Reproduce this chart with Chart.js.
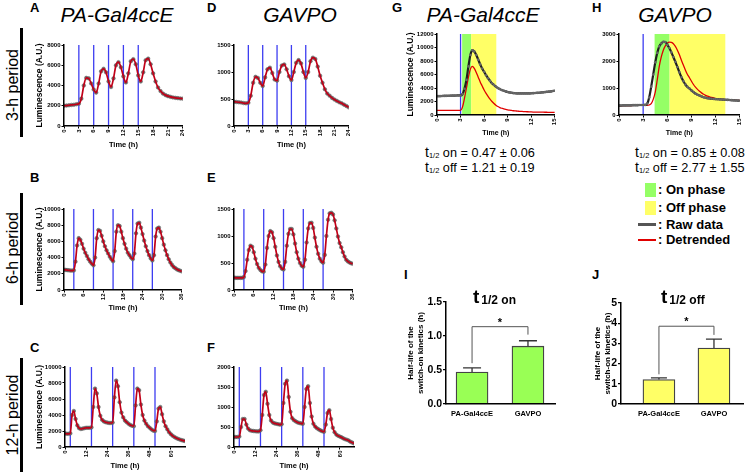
<!DOCTYPE html>
<html><head><meta charset="utf-8">
<script src="https://cdn.jsdelivr.net/npm/chart.js@4.4.1/dist/chart.umd.min.js"></script>
<style>
html,body{margin:0;padding:0;background:#fff;}
body{width:747px;height:472px;position:relative;overflow:hidden;font-family:"Liberation Sans",Arial,sans-serif;color:#000;}
canvas{position:absolute;}
.abs{position:absolute;white-space:nowrap;}
.letter{font-weight:bold;font-size:13px;line-height:1;}
.ttl{font-style:italic;font-size:21px;line-height:1;transform:translateX(-50%);}
.row{font-size:16px;line-height:1;transform:translate(-50%,-50%) rotate(-90deg);}
.vbar{position:absolute;width:3px;background:#000;}
.stat{font-size:12.7px;line-height:1;}
.stat .t{font-size:14px;}
.stat .sub{font-size:7.5px;vertical-align:-1px;}
.leg{font-size:13px;font-weight:bold;line-height:14px;}
.bt{font-weight:bold;line-height:19px;}
.bt .big{font-size:19px;}
.bt .small{font-size:12px;margin-left:2px;vertical-align:-1px;}
</style></head><body>
<div id="charts"></div>

<div class="abs letter" style="left:30px;top:1px">A</div>
<div class="abs letter" style="left:207px;top:1px">D</div>
<div class="abs letter" style="left:392px;top:1px">G</div>
<div class="abs letter" style="left:592px;top:1px">H</div>
<div class="abs letter" style="left:30px;top:171px">B</div>
<div class="abs letter" style="left:207px;top:171px">E</div>
<div class="abs letter" style="left:30px;top:341px">C</div>
<div class="abs letter" style="left:207px;top:341px">F</div>
<div class="abs letter" style="left:404px;top:268px">I</div>
<div class="abs letter" style="left:592px;top:268px">J</div>

<div class="abs ttl" style="left:117px;top:4px">PA-Gal4ccE</div>
<div class="abs ttl" style="left:300px;top:4px">GAVPO</div>
<div class="abs ttl" style="left:483px;top:4px">PA-Gal4ccE</div>
<div class="abs ttl" style="left:675px;top:4px">GAVPO</div>

<div class="abs row" style="left:13px;top:85px">3-h period</div>
<div class="abs row" style="left:13px;top:248px">6-h period</div>
<div class="abs row" style="left:13px;top:415px">12-h period</div>
<div class="vbar" style="left:20px;top:28px;height:109px"></div>
<div class="vbar" style="left:20px;top:193px;height:112px"></div>
<div class="vbar" style="left:20px;top:358px;height:114px"></div>

<div class="abs stat" style="left:425px;top:145px"><span class="t">t</span><span class="sub">1/2</span> on = 0.47 ± 0.06</div>
<div class="abs stat" style="left:425px;top:160px"><span class="t">t</span><span class="sub">1/2</span> off = 1.21 ± 0.19</div>
<div class="abs stat" style="left:635px;top:145px"><span class="t">t</span><span class="sub">1/2</span> on = 0.85 ± 0.08</div>
<div class="abs stat" style="left:635px;top:160px"><span class="t">t</span><span class="sub">1/2</span> off = 2.77 ± 1.55</div>

<div class="abs" style="left:645px;top:183px;width:11px;height:14px;background:#95ff66"></div>
<div class="abs leg" style="left:658px;top:183px">: On phase</div>
<div class="abs" style="left:645px;top:201px;width:11px;height:14px;background:#ffff66"></div>
<div class="abs leg" style="left:658px;top:201px">: Off phase</div>
<div class="abs" style="left:638px;top:223px;width:18px;height:3px;background:#555"></div>
<div class="abs leg" style="left:658px;top:218px">: Raw data</div>
<div class="abs" style="left:638px;top:239px;width:18px;height:1.5px;background:#e00000"></div>
<div class="abs leg" style="left:658px;top:233px">: Detrended</div>

<div class="abs bt" style="left:473px;top:287px"><span class="big">t</span><span class="small">1/2 on</span></div>
<div class="abs bt" style="left:661px;top:287px"><span class="big">t</span><span class="small">1/2 off</span></div>

<script>
// ---------------- DATA ----------------
const hours24 = [0,0.5,1,1.5,2,2.5,3,3.5,4,4.5,5,5.5,6,6.5,7,7.5,8,8.5,9,9.5,10,10.5,11,11.5,12,12.5,13,13.5,14,14.5,15,15.5,16,16.5,17,17.5,18,18.5,19,19.5,20,20.5,21,21.5,22,22.5,23,23.5,24];
const hours36 = [0,0.5,1,1.5,2,2.5,3,3.5,4,4.5,5,5.5,6,6.5,7,7.5,8,8.5,9,9.5,10,10.5,11,11.5,12,12.5,13,13.5,14,14.5,15,15.5,16,16.5,17,17.5,18,18.5,19,19.5,20,20.5,21,21.5,22,22.5,23,23.5,24,24.5,25,25.5,26,26.5,27,27.5,28,28.5,29,29.5,30,30.5,31,31.5,32,32.5,33,33.5,34,34.5,35,35.5,36];
const hours68 = [0,1,2,3,4,5,6,7,8,9,10,11,12,13,14,15,16,17,18,19,20,21,22,23,24,25,26,27,28,29,30,31,32,33,34,35,36,37,38,39,40,41,42,43,44,45,46,47,48,49,50,51,52,53,54,55,56,57,58,59,60,61,62,63,64,65,66,67,68];
const hours15 = [0,0.25,0.5,0.75,1,1.25,1.5,1.75,2,2.25,2.5,2.75,3,3.25,3.5,3.75,4,4.25,4.5,4.75,5,5.25,5.5,5.75,6,6.25,6.5,6.75,7,7.25,7.5,7.75,8,8.25,8.5,8.75,9,9.25,9.5,9.75,10,10.25,10.5,10.75,11,11.25,11.5,11.75,12,12.25,12.5,12.75,13,13.25,13.5,13.75,14,14.25,14.5,14.75,15];

// A: PA-Gal4ccE, 3-h period
const lumA = [2000,2020,2050,2080,2100,2150,2200,2700,4000,4750,
  4700,4200,3600,3300,4200,5400,5650,5300,4400,3850,
  4700,6000,6300,5800,4900,4300,5200,6400,6600,6100,
  5000,4400,5300,6500,6650,6100,5200,4400,3800,3450,
  3200,3050,2950,2880,2820,2780,2750,2720,2700];
// D: GAVPO, 3-h period
const lumD = [450,445,440,435,425,420,430,560,800,910,
  890,800,740,900,1050,1080,980,860,840,1000,
  1120,1140,1050,920,850,1000,1170,1220,1160,1000,
  890,1000,1200,1265,1240,1100,930,800,680,600,
  560,520,490,465,440,420,395,370,345];
// B: PA-Gal4ccE, 6-h period
const lumB = [2500,2480,2450,2430,2400,2400,2420,3500,5500,6400,
  6200,5700,5100,4600,4200,3800,3500,3250,3050,4000,
  6400,7400,7300,6700,6000,5400,4900,4500,4100,3800,
  3550,4800,7200,8000,7900,7200,6400,5700,5100,4600,
  4300,4000,3800,4500,7000,8200,8300,7700,6900,6100,
  5400,4800,4300,3900,3650,4300,6600,7600,7700,7200,
  6400,5600,4900,4300,3800,3400,3100,2850,2700,2550,
  2450,2380,2300];
// E: GAVPO, 6-h period
const lumE = [230,225,225,225,225,225,240,350,560,740,
  820,800,700,580,480,410,370,345,340,470,
  780,1000,1090,1070,960,800,640,520,440,395,
  380,520,820,1040,1130,1130,1030,860,700,580,
  500,450,430,560,880,1140,1240,1245,1150,970,
  800,670,580,530,505,650,1000,1300,1420,1430,
  1400,1290,1140,990,870,790,700,620,560,530,
  510,495,485];
// C: PA-Gal4ccE, 12-h period
const lumC = [1700,1650,1650,1700,4000,4500,3500,2700,2350,2250,
  2300,2350,2400,2400,2400,2450,5000,7300,6700,5000,
  3900,3400,3200,3100,3050,3000,3000,3050,6200,8300,
  7600,5600,4300,3700,3300,3100,2900,2750,2650,2600,
  5200,7300,7100,5300,4000,3300,2900,2600,2400,2200,
  2050,2000,3200,4800,5000,4100,3200,2600,2200,1850,
  1600,1400,1250,1120,1020,930,860,800,750];
// F: GAVPO, 12-h period
const lumF = [250,250,250,260,500,700,700,560,460,420,
  405,400,395,390,390,420,800,1300,1380,1080,
  800,660,610,590,580,570,560,570,1100,1580,
  1660,1250,880,720,670,640,615,600,590,580,
  1000,1450,1520,1100,760,580,510,470,440,415,
  395,380,560,850,920,700,480,370,310,280,
  260,240,215,195,180,160,130,110,90];
// G: PA-Gal4ccE single pulse
const rawG = [2800,2800,2810,2820,2830,2840,2850,2860,2870,2880,2890,2900,2900,
  3100,3900,5200,7200,8900,9600,9400,8900,8200,7500,6900,6400,
  5900,5450,5050,4700,4450,4200,4000,3850,3700,3600,3500,3400,
  3350,3300,3250,3220,3200,3200,3200,3200,3200,3200,3200,3220,
  3240,3260,3280,3300,3330,3360,3400,3430,3460,3500,3550,3600];
const detG = [700,700,700,700,700,700,700,700,700,700,700,700,700,
  1200,2500,4000,5600,6800,7200,6900,6300,5600,4900,4300,3700,
  3200,2750,2350,2000,1700,1450,1250,1100,1000,900,820,760,
  710,670,630,600,570,550,530,510,495,480,465,450,
  440,435,430,425,420,415,410,405,400,400,400,400];
// H: GAVPO single pulse
const rawH = [350,350,355,355,360,360,360,365,365,365,370,370,370,
  375,420,650,1050,1500,1950,2300,2540,2650,2710,2700,2600,
  2480,2320,2150,1970,1780,1580,1400,1250,1130,1040,980,910,
  850,790,750,720,690,660,640,620,610,600,595,590,
  585,580,575,570,565,560,555,550,545,540,535,530];
const detH = [340,340,345,345,350,350,350,355,355,355,360,360,360,
  360,360,370,420,580,850,1300,1800,2150,2400,2560,2660,
  2700,2690,2640,2540,2400,2230,2030,1840,1660,1500,1380,1250,
  1130,1030,950,880,820,770,730,700,670,650,630,610,
  600,590,580,575,570,565,560,555,550,548,545,540];

// light pulses (h) and phases (h)
const pulses3h = [3,6,9,12,15];
const pulses6h = [3,9,15,21,27];
const pulses12h = [3,15,27,39,51];
const pulseSingle = [3];
const onPhaseG = [3.2,4.35], offPhaseG = [4.35,7.55];
const onPhaseH = [4.42,6.28], offPhaseH = [6.28,13.2];

// bar panels
const strains = ['PA-Gal4ccE','GAVPO'];
const halfOn = [0.47,0.85], halfOnErr = [0.06,0.08];
const halfOff = [1.21,2.77], halfOffErr = [0.08,0.44];
const bracketOn = {top:1.137, left:0.6, right:1.02};
const bracketOff = {top:3.85, left:1.47, right:3.42};

// ---------------- DRAWING ----------------
Chart.defaults.font.family = '"Liberation Sans", Arial, sans-serif';
Chart.defaults.color = '#000';
Chart.defaults.animation = false;

const marksPlugin = {
  id: 'marks',
  beforeDatasetsDraw(chart, args, o) {
    const {ctx, chartArea: ca, scales: {x}} = chart;
    ctx.save();
    (o.bands || []).forEach(b => {
      const x1 = x.getPixelForValue(b.range[0]), x2 = x.getPixelForValue(b.range[1]);
      ctx.fillStyle = b.color;
      ctx.fillRect(x1, ca.top, x2 - x1, ca.bottom - ca.top);
    });
    ctx.strokeStyle = o.lineColor || 'rgba(40,40,240,0.9)';
    ctx.lineWidth = o.lineWidth || 1.3;
    (o.lines || []).forEach(v => {
      const px = x.getPixelForValue(v);
      ctx.beginPath(); ctx.moveTo(px, ca.top); ctx.lineTo(px, ca.bottom); ctx.stroke();
    });
    ctx.restore();
  }
};

const barExtras = {
  id: 'barExtras',
  afterDatasetsDraw(chart, args, o) {
    if (!o.values) return;
    const {ctx, scales: {y}} = chart;
    const meta = chart.getDatasetMeta(0);
    ctx.save();
    ctx.strokeStyle = '#333'; ctx.lineWidth = 1.3;
    meta.data.forEach((bar, i) => {
      const px = bar.x, base = y.getPixelForValue(o.values[i]), top = y.getPixelForValue(o.values[i] + o.errors[i]);
      ctx.beginPath(); ctx.moveTo(px, base); ctx.lineTo(px, top);
      ctx.moveTo(px - o.cap, top); ctx.lineTo(px + o.cap, top); ctx.stroke();
    });
    const b = o.bracket, x1 = meta.data[0].x, x2 = meta.data[1].x, yt = y.getPixelForValue(b.top);
    ctx.strokeStyle = '#555'; ctx.lineWidth = 1;
    ctx.beginPath();
    ctx.moveTo(x1, y.getPixelForValue(b.left)); ctx.lineTo(x1, yt); ctx.lineTo(x2, yt); ctx.lineTo(x2, y.getPixelForValue(b.right));
    ctx.stroke();
    ctx.fillStyle = '#000'; ctx.font = 'bold 11px "Liberation Sans"';
    ctx.textAlign = 'center'; ctx.textBaseline = 'alphabetic';
    ctx.fillText('*', (x1 + x2) / 2, yt - 1);
    ctx.restore();
  }
};

function makeCanvas(box, pad) {
  const L = box.l - pad.l, T = box.t - pad.t;
  const W = box.r - box.l + pad.l + pad.r, H = box.b - box.t + pad.t + pad.b;
  const c = document.createElement('canvas');
  c.width = W; c.height = H;
  Object.assign(c.style, {left: L + 'px', top: T + 'px', width: W + 'px', height: H + 'px'});
  document.getElementById('charts').appendChild(c);
  return c;
}

const gridOpts = {display: true, drawOnChartArea: false, drawTicks: true, tickLength: 2.5, color: '#000', lineWidth: 1};
const borderOpts = {display: true, color: '#000', width: 1.5, z: 1};
const plain = v => String(v);

function linePanel(box, pad, o) {
  const c = makeCanvas(box, pad);
  let datasets;
  if (o.raw) {
    const rawPts = o.hours.map((h, i) => ({x: h, y: o.raw[i]}));
    const detPts = o.hours.map((h, i) => ({x: h, y: o.det[i]}));
    datasets = [
      {data: rawPts, borderColor: '#1e1e1e', borderWidth: 2.2, pointRadius: 1.3, pointBackgroundColor: '#666', pointBorderWidth: 0, cubicInterpolationMode: 'monotone', order: 1},
      {data: detPts, borderColor: '#e00000', borderWidth: 1.3, pointRadius: 0, cubicInterpolationMode: 'monotone', order: 2}
    ];
  } else {
    const pts = o.hours.map((h, i) => ({x: h, y: o.values[i]}));
    datasets = [
      {data: pts, borderColor: '#c00018', borderWidth: 1.7, pointRadius: 0, cubicInterpolationMode: 'monotone', order: 1},
      {data: pts, showLine: false, pointRadius: 1.8, pointBackgroundColor: '#747474', pointBorderColor: '#555', pointBorderWidth: 0.5, order: 2}
    ];
  }
  return new Chart(c, {
    type: 'line',
    data: {datasets},
    plugins: [marksPlugin],
    options: {
      responsive: false, animation: false,
      layout: {padding: {left: 0, top: pad.t, right: pad.r, bottom: 0}},
      plugins: {legend: {display: false}, tooltip: {enabled: false},
        marks: {lines: o.pulses, bands: o.bands || []}},
      scales: {
        x: {type: 'linear', min: 0, max: o.xMax, afterFit: s => { s.height = pad.b; },
          ticks: {stepSize: o.xStep, includeBounds: false, minRotation: 90, maxRotation: 90, autoSkip: false, padding: 1, font: {size: 6, weight: 'bold'}, color: '#000', callback: plain},
          grid: gridOpts, border: borderOpts,
          title: {display: true, text: 'Time (h)', color: '#000', font: {size: o.xFont || 7.5, weight: 'bold'}, padding: {top: 0, bottom: 1}}},
        y: {type: 'linear', min: 0, max: o.yMax, afterFit: s => { s.width = pad.l; },
          ticks: {stepSize: o.yStep, padding: 1, font: {size: 6, weight: 'bold'}, color: '#000', callback: plain},
          grid: gridOpts, border: borderOpts,
          title: {display: !!o.yTitle, text: 'Luminescence (A.U.)', color: '#000', font: {size: 8.5, weight: 'bold'}, padding: {top: 1, bottom: 0}}}
      }
    }
  });
}

function barPanel(box, pad, o) {
  const c = makeCanvas(box, pad);
  const pts = o.values.map((v, i) => ({x: o.positions[i], y: v}));
  return new Chart(c, {
    type: 'bar',
    data: {datasets: [{data: pts, backgroundColor: o.color, borderColor: '#444', borderWidth: 1.3, barThickness: 32, borderSkipped: 'bottom'}]},
    plugins: [barExtras],
    options: {
      responsive: false, animation: false,
      layout: {padding: {left: 0, top: pad.t, right: pad.r, bottom: 0}},
      plugins: {legend: {display: false}, tooltip: {enabled: false},
        barExtras: {values: o.values, errors: o.errors, cap: o.cap, bracket: o.bracket}},
      scales: {
        x: {type: 'linear', min: 0, max: 1, offset: false, afterFit: s => { s.height = pad.b; },
          afterBuildTicks: s => { s.ticks = o.positions.map(v => ({value: v})); },
          ticks: {callback: (v, i) => o.labels[i], autoSkip: false, maxRotation: 0, minRotation: 0, padding: 5, font: {size: 7.5, weight: 'bold'}, color: '#000'},
          grid: {display: false, drawTicks: false}, border: borderOpts},
        y: {type: 'linear', min: 0, max: o.yMax, afterFit: s => { s.width = pad.l; },
          ticks: {stepSize: o.yStep, padding: 1, font: {size: 10.5, weight: 'bold'}, color: '#000', callback: o.fmt},
          grid: {display: true, drawOnChartArea: false, drawTicks: true, tickLength: 3, color: '#000', lineWidth: 1.3},
          border: borderOpts,
          title: {display: true, text: ['Half-life of the', 'switch-on kinetics (h)'], color: '#000', font: {size: 8, weight: 'bold', lineHeight: 1.25}, padding: {top: 1, bottom: 0}}}
      }
    }
  });
}

// A-F
linePanel({l: 64, t: 45, r: 185, b: 126}, {l: 30, t: 6, r: 6, b: 24},
  {hours: hours24, values: lumA, pulses: pulses3h, xMax: 24, xStep: 3, yMax: 8000, yStep: 2000, yTitle: true});
linePanel({l: 234, t: 45, r: 351, b: 126}, {l: 28, t: 6, r: 6, b: 24},
  {hours: hours24, values: lumD, pulses: pulses3h, xMax: 24, xStep: 3, yMax: 1500, yStep: 500});
linePanel({l: 64, t: 209, r: 184, b: 290}, {l: 30, t: 6, r: 6, b: 23},
  {hours: hours36, values: lumB, pulses: pulses6h, xMax: 36, xStep: 6, yMax: 10000, yStep: 2000, yTitle: true});
linePanel({l: 234, t: 209, r: 355, b: 290}, {l: 28, t: 6, r: 6, b: 23},
  {hours: hours36, values: lumE, pulses: pulses6h, xMax: 36, xStep: 6, yMax: 1500, yStep: 500});
linePanel({l: 65, t: 367, r: 185, b: 447}, {l: 31, t: 6, r: 6, b: 24},
  {hours: hours68, values: lumC, pulses: pulses12h, xMax: 68, xStep: 12, yMax: 10000, yStep: 2000, yTitle: true});
linePanel({l: 234, t: 367, r: 354, b: 447}, {l: 28, t: 6, r: 6, b: 24},
  {hours: hours68, values: lumF, pulses: pulses12h, xMax: 68, xStep: 12, yMax: 2000, yStep: 500});

// G, H
linePanel({l: 437, t: 34, r: 557, b: 115}, {l: 32, t: 6, r: 6, b: 23},
  {hours: hours15, raw: rawG, det: detG, pulses: pulseSingle, xMax: 15, xStep: 3, yMax: 12000, yStep: 2000, yTitle: true, xFont: 7,
   bands: [{range: onPhaseG, color: '#95ff66'}, {range: offPhaseG, color: '#ffff66'}]});
linePanel({l: 619, t: 34, r: 742, b: 115}, {l: 28, t: 6, r: 6, b: 23},
  {hours: hours15, raw: rawH, det: detH, pulses: pulseSingle, xMax: 15, xStep: 3, yMax: 3000, yStep: 1000, xFont: 7,
   bands: [{range: onPhaseH, color: '#95ff66'}, {range: offPhaseH, color: '#ffff66'}]});

// I, J
barPanel({l: 446, t: 302, r: 555, b: 404}, {l: 41, t: 8, r: 6, b: 20},
  {values: halfOn, errors: halfOnErr, labels: strains, positions: [0.239, 0.752], color: '#99ff55', cap: 9,
   bracket: bracketOn, yMax: 1.5, yStep: 0.5, fmt: v => v.toFixed(1)});
barPanel({l: 621, t: 303, r: 743, b: 404}, {l: 29, t: 8, r: 6, b: 20},
  {values: halfOff, errors: halfOffErr, labels: strains, positions: [0.311, 0.762], color: '#ffff66', cap: 8,
   bracket: bracketOff, yMax: 5, yStep: 1, fmt: v => String(v)});
</script>
</body></html>
